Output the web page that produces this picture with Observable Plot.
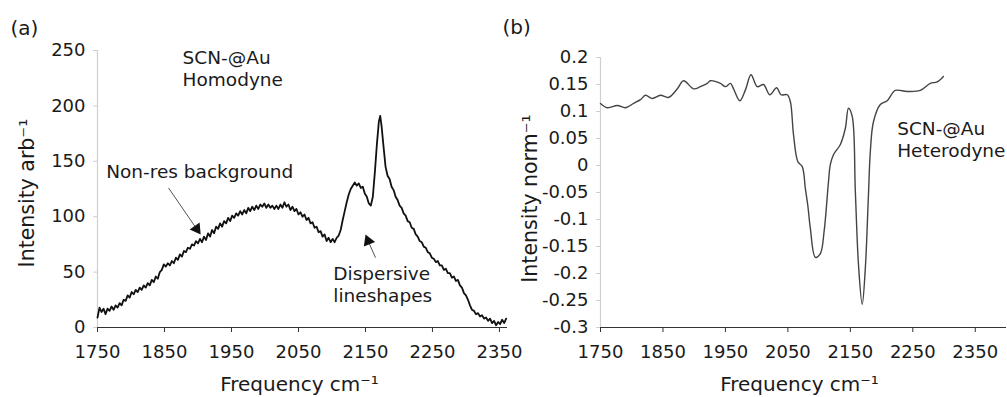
<!DOCTYPE html>
<html>
<head>
<meta charset="utf-8">
<script src="https://cdn.jsdelivr.net/npm/d3@7"></script>
<script src="https://cdn.jsdelivr.net/npm/@observablehq/plot@0.6"></script>
<style>
  html, body { margin: 0; padding: 0; background: #fff; }
  #wrap { position: relative; width: 1007px; height: 397px; }
</style>
</head>
<body>
<div id="wrap"></div>
<script>
// ---- Panel (a): homodyne spectrum ----
const freqA = [1750,1753,1756,1759,1762,1765,1768,1771,1774,1777,1780,1783,1786,1789,1792,1795,1798,1801,1804,1807,1810,1813,1816,1819,1822,1825,1828,1831,1834,1837,1840,1843,1846,1849,1852,1855,1858,1861,1864,1867,1870,1873,1876,1879,1882,1885,1888,1891,1894,1897,1900,1903,1906,1909,1912,1915,1918,1921,1924,1927,1930,1933,1936,1939,1942,1945,1948,1951,1954,1957,1960,1963,1966,1969,1972,1975,1978,1981,1984,1987,1990,1993,1996,1999,2002,2005,2008,2011,2014,2017,2020,2023,2026,2029,2032,2035,2038,2041,2044,2047,2050,2053,2056,2059,2062,2065,2068,2071,2074,2077,2080,2083,2086,2089,2092,2095,2098,2101,2104,2107,2110,2113,2116,2119,2122,2125,2128,2131,2134,2137,2140,2143,2146,2149,2152,2155,2158,2161,2164,2167,2170,2172,2174,2177,2180,2183,2186,2189,2192,2195,2198,2201,2204,2207,2210,2213,2216,2219,2222,2225,2228,2231,2234,2237,2240,2243,2246,2249,2252,2255,2258,2261,2264,2267,2270,2273,2276,2279,2282,2285,2288,2291,2294,2297,2300,2303,2306,2309,2312,2315,2318,2321,2324,2327,2330,2333,2336,2339,2342,2345,2348,2351,2354,2357,2360];
const intensA = [9,18,14,17,12,17,15,19,16,20,18,22,20,25,24,29,27,32,30,34,32,36,34,38,36,40,38,43,41,46,44,50,52,57,55,58,56,60,58,63,61,66,64,69,68,72,71,75,74,78,76,80,77,82,79,85,82,88,85,91,89,94,91,96,94,99,96,101,99,103,101,105,102,106,103,108,105,109,106,110,107,111,109,112,108,111,108,110,107,110,107,111,108,113,109,111,106,109,105,107,102,104,100,102,97,99,94,95,90,91,86,87,82,84,78,81,77,80,77,81,83,88,97,105,113,120,125,128,131,128,130,126,127,121,118,112,110,118,140,165,186,191,182,163,145,137,134,127,124,118,115,110,108,103,101,96,95,90,89,84,82,78,77,73,72,68,67,63,62,59,60,56,56,52,53,49,49,45,46,42,43,38,36,31,29,25,20,16,15,12,13,10,11,8,9,6,8,4,6,2,5,3,7,4,8];

// ---- Panel (b): heterodyne spectrum ----
const freqB = [1750,1761,1777,1790,1803,1814,1822,1833,1846,1859,1873,1883,1899,1910,1921,1926,1942,1950,1958,1963,1973,1982,1991,2001,2011,2021,2032,2039,2049,2054,2059,2066,2073,2078,2082,2086,2094,2102,2108,2115,2118,2123,2134,2142,2147,2153,2158,2163,2169,2174,2179,2182,2187,2198,2209,2222,2241,2262,2278,2289,2299];
const intensB = [0.115,0.107,0.111,0.107,0.115,0.122,0.130,0.124,0.130,0.126,0.142,0.157,0.142,0.146,0.152,0.157,0.152,0.146,0.152,0.142,0.120,0.140,0.168,0.146,0.150,0.131,0.144,0.131,0.131,0.118,0.057,0.007,-0.002,-0.043,-0.075,-0.117,-0.170,-0.163,-0.122,-0.030,0.002,0.020,0.039,0.069,0.106,0.091,-0.048,-0.183,-0.257,-0.190,-0.054,0.026,0.081,0.113,0.120,0.139,0.137,0.139,0.152,0.155,0.165];

// ---- Axis ticks and labels ----
const xTicks = [1750,1850,1950,2050,2150,2250,2350];
const yTicksA = [0,50,100,150,200,250];
const yTicksB = [0.2,0.15,0.1,0.05,0,-0.05,-0.1,-0.15,-0.2,-0.25,-0.3];
const xTitle = "Frequency cm\u207B\u00B9";
const yTitleA = "Intensity arb\u207B\u00B9";
const yTitleB = "Intensity norm\u207B\u00B9";
const panelLabels = ["(a)", "(b)"];

// ---- Annotations (data units) ----
const annotA = [
  {x: 1877, y: 234, text: "SCN-@Au\nHomodyne"},
  {x: 1763, y: 141, text: "Non-res background"},
  {x: 2102, y: 39, text: "Dispersive\nlineshapes"}
];
const arrowsA = [
  {x1: 1856, y1: 126, x2: 1898, y2: 89, rot: 145},
  {x1: 2165, y1: 63, x2: 2154, y2: 78, rot: -22}
];
const annotB = [
  {x: 2225, y: 0.049, text: "SCN-@Au\nHeterodyne"}
];

const dataA = freqA.map((f, i) => ({f, v: intensA[i]}));
const dataB = freqB.map((f, i) => ({f, v: intensB[i]}));

const FONT = "'DejaVu Sans', Verdana, sans-serif";
const TXT = "#1a1a1a";
const GRAY = "#cfcfcf";
const fmtB = d => String(+(+d).toFixed(2));

const plotA = Plot.plot({
  width: 520, height: 397,
  marginLeft: 97, marginRight: 13, marginTop: 50, marginBottom: 70,
  style: {fontFamily: FONT, fontSize: "18px", background: "transparent", color: TXT, overflow: "visible"},
  x: {domain: [1750, 2362]},
  y: {domain: [0, 250]},
  marks: [
    Plot.ruleX([1750], {stroke: GRAY, strokeWidth: 1.2}),
    Plot.axisY({ticks: yTicksA, tickSize: 4, tickPadding: 8, stroke: GRAY, fill: TXT, label: null}),
    Plot.line(dataA, {x: "f", y: "v", stroke: "#111", strokeWidth: 1.8}),
    Plot.ruleY([0], {stroke: "#333", strokeWidth: 1.2}),
    Plot.axisX({ticks: xTicks, tickSize: 5, tickPadding: 13, stroke: "#333", fill: TXT, label: null, tickFormat: d => String(d)}),
    Plot.link(arrowsA, {x1: "x1", y1: "y1", x2: "x2", y2: "y2", stroke: "#555", strokeWidth: 1}),
    Plot.dot(arrowsA, {x: "x2", y: "y2", symbol: "triangle", r: 4.5, fill: "#111", stroke: "none", rotate: "rot"}),
    Plot.text(annotA, {x: "x", y: "y", text: "text", textAnchor: "start", lineAnchor: "middle", lineHeight: 1.15, fill: TXT, fontSize: 18.5}),
    Plot.text([panelLabels[0]], {frameAnchor: "top-left", dx: -87, dy: -22, textAnchor: "start", lineAnchor: "middle", fontSize: 20, fill: TXT}),
    Plot.text([xTitle], {frameAnchor: "bottom", dx: -3, dy: 57, lineAnchor: "middle", fill: TXT, fontSize: 20}),
    Plot.text([yTitleA], {frameAnchor: "left", dx: -70, dy: 4, rotate: -90, lineAnchor: "middle", textAnchor: "middle", fill: TXT, fontSize: 20.5})
  ]
});

const plotB = Plot.plot({
  width: 507, height: 397,
  marginLeft: 100, marginRight: 1, marginTop: 57, marginBottom: 70,
  style: {fontFamily: FONT, fontSize: "18px", background: "transparent", color: TXT, overflow: "visible"},
  x: {domain: [1750, 2400]},
  y: {domain: [-0.3, 0.2]},
  marks: [
    Plot.ruleX([1750], {stroke: GRAY, strokeWidth: 1.2}),
    Plot.axisY({ticks: yTicksB, tickSize: 4, tickPadding: 8, stroke: GRAY, fill: TXT, label: null, tickFormat: fmtB}),
    Plot.line(dataB, {x: "f", y: "v", stroke: "#444", strokeWidth: 1.4, curve: "catmull-rom"}),
    Plot.ruleY([-0.3], {stroke: "#333", strokeWidth: 1.2}),
    Plot.axisX({ticks: xTicks, tickSize: 5, tickPadding: 13, stroke: "#333", fill: TXT, label: null, tickFormat: d => String(d)}),
    Plot.text(annotB, {x: "x", y: "y", text: "text", textAnchor: "start", lineAnchor: "middle", lineHeight: 1.2, fill: TXT, fontSize: 18.5}),
    Plot.text([panelLabels[1]], {frameAnchor: "top-left", dx: -98, dy: -30, textAnchor: "start", lineAnchor: "middle", fontSize: 20, fill: TXT}),
    Plot.text([xTitle], {frameAnchor: "bottom", dx: -4, dy: 57, lineAnchor: "middle", fill: TXT, fontSize: 20}),
    Plot.text([yTitleB], {frameAnchor: "left", dx: -70, dy: 6, rotate: -90, lineAnchor: "middle", textAnchor: "middle", fill: TXT, fontSize: 20.5})
  ]
});

// Combine both Plot charts into one SVG canvas, side by side.
const NS = "http://www.w3.org/2000/svg";
const root = document.createElementNS(NS, "svg");
root.setAttribute("width", 1007);
root.setAttribute("height", 397);
root.setAttribute("viewBox", "0 0 1007 397");
root.style.display = "block";
root.style.background = "#fff";
function embed(svg, offsetX) {
  const g = document.createElementNS(NS, "g");
  for (const a of Array.from(svg.attributes)) {
    if (["width", "height", "viewBox", "xmlns", "xmlns:xlink"].includes(a.name)) continue;
    g.setAttribute(a.name, a.value);
  }
  g.setAttribute("transform", `translate(${offsetX},0)`);
  while (svg.firstChild) g.appendChild(svg.firstChild);
  root.appendChild(g);
}
embed(plotA, 0);
embed(plotB, 500);
document.getElementById("wrap").appendChild(root);
</script>
</body>
</html>
